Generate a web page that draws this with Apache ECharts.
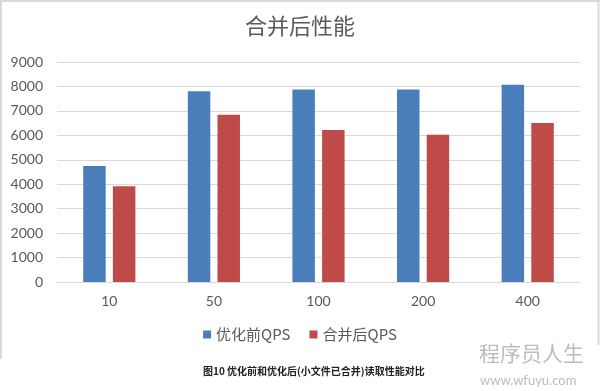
<!DOCTYPE html>
<html>
<head>
<meta charset="utf-8">
<script src="https://cdn.jsdelivr.net/npm/echarts@6/dist/echarts.min.js"></script>
<style>
html,body{margin:0;padding:0;background:#fff;}
#c{width:600px;height:391px;}
</style>
</head>
<body>
<div id="c"></div>
<script>
var categories = ['10', '50', '100', '200', '400'];
var beforeQPS = [4750, 7800, 7870, 7870, 8070];
var afterQPS = [3920, 6840, 6220, 6020, 6500];
var seriesNames = ['优化前QPS', '合并后QPS'];
var titleText = '合并后性能';
var captionText = '图10 优化前和优化后(小文件已合并)读取性能对比';
var watermark1 = '程序员人生';
var watermark2 = 'www.wfuyu.com';

var chart = echarts.init(document.getElementById('c'), null, {renderer: 'canvas'});
var txtColor = '#595959';
var font = 'Lato, "Noto Sans CJK SC", sans-serif';
chart.setOption({
  animation: false,
  backgroundColor: '#fff',
  title: {
    text: titleText, left: 'center', top: 10,
    textStyle: {fontSize: 22, fontWeight: 'normal', color: txtColor, fontFamily: '"Noto Sans CJK SC", sans-serif'}
  },
  legend: {
    data: seriesNames, bottom: 44, left: 'center',
    icon: 'rect', itemWidth: 8, itemHeight: 8, itemGap: 19,
    textStyle: {fontSize: 15, color: txtColor, fontFamily: '"Noto Sans CJK SC", sans-serif'}
  },
  grid: {left: 57, right: 20, top: 62, bottom: 109, containLabel: false},
  xAxis: {
    type: 'category', data: categories,
    axisLine: {show: true, lineStyle: {color: '#d9d9d9'}},
    axisTick: {show: false},
    axisLabel: {color: txtColor, fontSize: 14, fontFamily: font, margin: 12}
  },
  yAxis: {
    type: 'value', min: 0, max: 9000, interval: 1000,
    axisLine: {show: false}, axisTick: {show: false},
    splitLine: {lineStyle: {color: '#d9d9d9', width: 1}},
    axisLabel: {color: txtColor, fontSize: 14, fontFamily: font, margin: 14, formatter: function (v) { return String(v); }}
  },
  series: [
    {name: seriesNames[0], type: 'bar', data: beforeQPS, barWidth: '21.5%', barGap: '32%', itemStyle: {color: '#4a7ebb'}},
    {name: seriesNames[1], type: 'bar', data: afterQPS, barWidth: '21.5%', barGap: '32%', itemStyle: {color: '#be4b48'}}
  ],
  graphic: [
    {type: 'line', shape: {x1: 1, y1: 0, x2: 1, y2: 359}, style: {stroke: '#d9d9d9', lineWidth: 2}},
    {type: 'line', shape: {x1: 0, y1: 1, x2: 600, y2: 1}, style: {stroke: '#d9d9d9', lineWidth: 2}},
    {type: 'line', shape: {x1: 598.5, y1: 0, x2: 598.5, y2: 345}, style: {stroke: '#d9d9d9', lineWidth: 2}},
    {type: 'text', left: 203, top: 366, style: {text: captionText, fontSize: 10, fontWeight: 'bold', fill: '#222', fontFamily: '"Noto Sans CJK SC", sans-serif'}},
    {type: 'text', left: 479, top: 343, style: {text: watermark1, fontSize: 21, fill: '#bdbdbd', fontFamily: '"Noto Sans CJK SC", sans-serif'}},
    {type: 'text', left: 480, top: 374, style: {text: watermark2, fontSize: 13, fill: '#bdbdbd', fontFamily: 'Lato, sans-serif'}}
  ]
});
</script>
</body>
</html>
